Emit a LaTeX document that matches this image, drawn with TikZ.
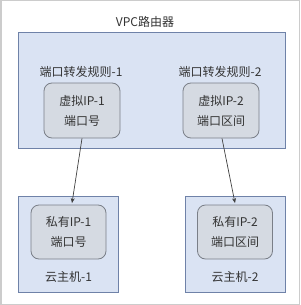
\documentclass[tikz,border=0pt]{standalone}
\usepackage{fontspec}
\setmainfont{Noto Sans CJK SC}
\usetikzlibrary{arrows.meta}
\definecolor{bluefill}{HTML}{DAE3F3}
\definecolor{blueline}{HTML}{6F82A8}
\definecolor{grayfill}{HTML}{D5DAE2}
\definecolor{grayline}{HTML}{7A7F88}
\definecolor{txt}{HTML}{333333}
\definecolor{frame}{HTML}{CCCCCC}
\begin{document}
\begin{tikzpicture}[x=1pt,y=-1pt,
  bluebox/.style={draw=blueline,fill=bluefill,line width=0.9pt,minimum width=#1,inner sep=0pt},
  graybox/.style={draw=grayline,fill=grayfill,line width=0.8pt,rounded corners=8pt,minimum width=76pt,minimum height=55pt,inner sep=0pt,align=center,text=txt,font=\fontsize{12}{20}\selectfont},
  lbl/.style={text=txt,font=\fontsize{12}{14}\selectfont,inner sep=0pt},
  conn/.style={draw=black!75,line width=0.7pt,-{Stealth[length=5pt,width=4pt]}}]
\useasboundingbox (0,0) rectangle (300,305);
\draw[frame,line width=1.5pt] (0.75,0.75) rectangle (299.25,304.25);
\node[bluebox=267pt,minimum height=116pt] (router) at (151.5,90) {};
\node[lbl] (title) at (145,22) {VPC路由器};
\node[lbl] (rule1) at (81,72) {端口转发规则-1};
\node[lbl] (rule2) at (220,72) {端口转发规则-2};
\node[graybox] (vip1) at (82,110.5) {虚拟IP-1\\端口号};
\node[graybox] (vip2) at (221,110.5) {虚拟IP-2\\端口区间};
\node[bluebox=100pt,minimum height=96pt] (host1) at (68,244) {};
\node[bluebox=100pt,minimum height=96pt] (host2) at (235,244) {};
\node[graybox,minimum width=75pt,minimum height=54pt] (pip1) at (68.5,232) {私有IP-1\\端口号};
\node[graybox,minimum width=75pt,minimum height=54pt] (pip2) at (235,232) {私有IP-2\\端口区间};
\node[lbl] (hl1) at (68.5,277) {云主机-1};
\node[lbl] (hl2) at (235,277) {云主机-2};
\draw[conn] (vip1.south) -- ([xshift=3.5pt,yshift=1.5pt]pip1.north);
\draw[conn] ([xshift=1pt]vip2.south) -- ([yshift=1.5pt]pip2.north);
\end{tikzpicture}
\end{document}
